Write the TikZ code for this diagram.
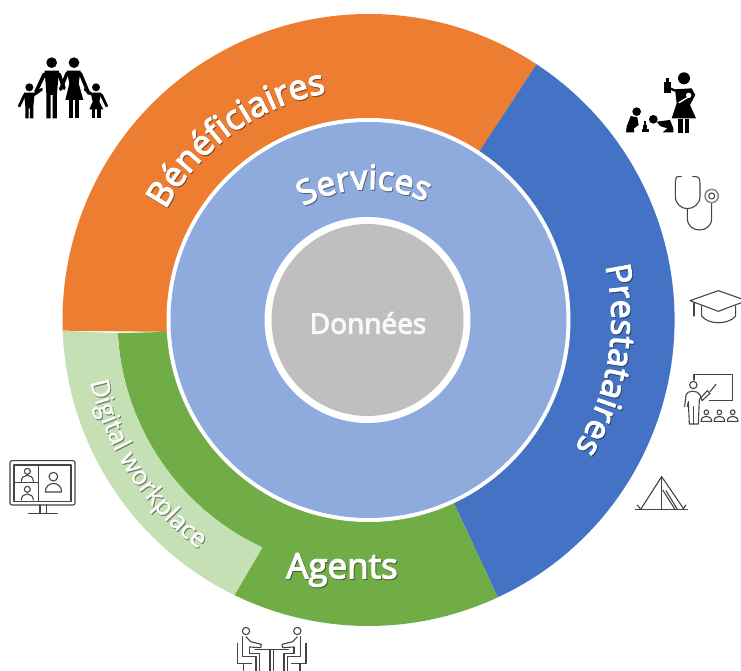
\documentclass[tikz,border=0pt]{standalone}
\usepackage{fontspec}
\usetikzlibrary{decorations.text,calc}
\setmainfont{Open Sans}
\newfontfamily\semib[FakeBold=3.5]{Open Sans}
\newfontfamily\midw[FakeBold=1.2]{Open Sans}
\definecolor{cOrange}{HTML}{ED7D31}
\definecolor{cBlue}{HTML}{4472C4}
\definecolor{cGreen}{HTML}{70AD47}
\definecolor{cLight}{HTML}{C5E0B4}
\definecolor{cServ}{HTML}{8FAADC}
\definecolor{cData}{HTML}{BFBFBF}
\definecolor{cIcon}{HTML}{444444}
\tikzset{
  iconline/.style={draw=cIcon,line width=1.1pt,line cap=round,line join=round},
  iconthick/.style={draw=black,line width=#1,line cap=round,line join=round},
  zoomed/.style 2 args={shift={(#1,671-#2)},xscale=1/3,yscale=-1/3},
}
% start angle, end angle, radius, font size, weight, text, colour, shadow colour
\newcommand{\arclabel}[8]{%
  \path[shift={(0.9,-1.1)},decorate,decoration={text along path,text align=center,
    text={|\color{#8}\fontsize{#4}{#4}\selectfont#5|#6}}]
    ($(368.5,351)+(#1:#3)$) arc (#1:#2:#3);
  \path[decorate,decoration={text along path,text align=center,
    text={|\color{#7}\fontsize{#4}{#4}\selectfont#5|#6}}]
    ($(368.5,351)+(#1:#3)$) arc (#1:#2:#3);
}
\begin{document}
\begin{tikzpicture}[x=1pt,y=1pt]
\useasboundingbox (0,0) rectangle (741,671);
\coordinate (c) at (368.5,351);
% outer ring sectors
\fill[cOrange] ($(c)+(56.7:306)$) arc (56.7:182:306) -- ($(c)+(183.4:200)$) arc (183.4:56.7:200) -- cycle;
\fill[cBlue] ($(c)+(-65:306)$) arc (-65:56.7:306) -- ($(c)+(56.7:200)$) arc (56.7:-65:200) -- cycle;
\fill[cGreen] ($(c)+(244:306)$) arc (244:295:306) -- ($(c)+(295:200)$) arc (295:183.4:200) -- ($(c)+(183:251)$) arc (183:245:251) -- cycle;
\fill[cLight] ($(c)+(182:306)$) arc (182:244:306) -- ($(c)+(245:251)$) arc (245:183:251) -- cycle;
% inner discs
\node[circle,fill=white,minimum size=404pt,inner sep=0pt] (servring) at (c) {};
\node[circle,fill=cServ,minimum size=396pt,inner sep=0pt] (services) at (c) {};
\node[circle,fill=white,minimum size=206pt,inner sep=0pt] (dataring) at (367.5,351) {};
\node[circle,fill=cData,minimum size=192pt,inner sep=0pt] (data) at (367.5,351) {};
% labels
\arclabel{152}{100}{231}{34.5}{\semib}{Bénéficiaires}{white}{cOrange!60!black}
\arclabel{122}{62}{131}{33.5}{\semib}{Services}{white}{cServ!60!black}
\arclabel{13}{-32}{243}{34}{\semib}{Prestataires}{white}{cBlue!60!black}
\arclabel{190}{236}{285}{25.5}{\midw}{Digital workplace}{white}{cLight!55!black}
\node[text=cGreen!55!black,font=\fontsize{35}{35}\selectfont\semib,inner sep=0pt] (agentsS) at (342.9,100) {Agents};
\node[text=white,font=\fontsize{35}{35}\selectfont\semib,inner sep=0pt] (agents) at (342,101) {Agents};
\node[text=white!90!cData,font=\fontsize{28}{28}\selectfont\semib,inner sep=0pt] (donnees) at (368,348) {Données};

% family
\begin{scope}[zoomed={0}{30}]
\fill (155,98) circle (16); \fill (222,98) circle (16);
\fill (88,172) circle (12); \fill (288,172) circle (12);
\fill (134,122) -- (177,122) -- (171,190) -- (171,265) -- (158,265) -- (158,195) -- (152,195) -- (152,265) -- (139,265) -- (139,190) -- cycle;
\draw[iconthick=3.6pt] (133,132) -- (108,185);
\draw[iconthick=3.6pt] (177,132) -- (192,175);
\fill (200,122) -- (242,122) -- (236,160) -- (250,210) -- (196,210) -- (208,160) -- cycle;
\fill (208,205) rectangle (219,265); \fill (225,205) rectangle (237,265);
\draw[iconthick=3.4pt] (201,130) -- (182,178);
\draw[iconthick=3.4pt] (241,130) -- (266,190);
\fill (72,188) -- (104,188) -- (100,230) -- (100,265) -- (90,265) -- (90,235) -- (86,235) -- (86,265) -- (76,265) -- (76,230) -- cycle;
\draw[iconthick=2.8pt] (74,194) -- (58,228);
\draw[iconthick=2.8pt] (102,194) -- (125,178);
\fill (272,188) -- (304,188) -- (298,215) -- (310,238) -- (268,238) -- (278,215) -- cycle;
\fill (276,235) rectangle (286,265); \fill (292,235) rectangle (302,265);
\draw[iconthick=2.8pt] (274,192) -- (255,178);
\draw[iconthick=2.8pt] (304,194) -- (320,228);
\end{scope}

% caregiver and children
\begin{scope}[zoomed={610}{60}]
\fill (222,55) circle (18);
\fill (163,66) rectangle (182,98); \fill (168,53) rectangle (176,66);
\fill (195,88) -- (245,85) -- (256,105) -- (240,135) -- (258,175) -- (185,175) -- (200,130) -- cycle;
\draw[iconthick=2.2pt] (182,86) -- (205,96);
\fill (204,178) rectangle (218,220); \fill (224,178) rectangle (238,220);
\draw[white,line width=1.4pt,line cap=round] (207,128) -- (240,108);
\fill[white] (236,106) circle (8);
\fill (80,155) circle (13);
\fill (62,168) -- (82,172) -- (86,195) -- (72,205) -- (72,217) -- (48,217) -- (50,200) -- cycle;
\fill (130,178) circle (13);
\fill (140,185) -- (180,180) -- (190,205) -- (190,217) -- (158,217) -- (172,205) -- (150,198) -- cycle;
\fill (95,207) rectangle (118,217); \fill (99,195) rectangle (112,206); \fill (103,184) rectangle (109,194);
\end{scope}

% stethoscope
\begin{scope}[zoomed={610}{60}]
\draw[iconline] (214,350) -- (203,350) .. controls (198,350) and (196,360) .. (196,372) -- (196,410) .. controls (196,432) and (215,446) .. (232,446) .. controls (250,446) and (270,432) .. (270,410) -- (270,372) .. controls (270,360) and (268,350) .. (258,350) -- (248,350);
\draw[iconline] (232,446) -- (232,475) .. controls (232,498) and (250,510) .. (268,510) .. controls (288,510) and (305,498) .. (305,475) -- (305,428);
\draw[iconline,line width=1.5pt,draw=cIcon!65] (305,408) circle (20);
\draw[iconline] (305,408) circle (9);
\end{scope}

% mortarboard
\begin{scope}[zoomed={620}{280}]
\draw[iconline] (210,62) -- (295,32) -- (380,62) -- (295,94) -- cycle;
\draw[iconline] (245,78) -- (245,108) .. controls (265,135) and (325,135) .. (347,108) -- (347,78);
\draw[iconline] (222,68) -- (222,108);
\end{scope}

% teacher
\begin{scope}[zoomed={620}{280}]
\draw[iconline] (222,300) -- (222,283) -- (338,283) -- (338,362) -- (268,362);
\draw[iconline] (220,315) circle (11);
\draw[iconline] (194,380) -- (198,345) .. controls (200,330) and (235,330) .. (240,345) -- (246,362) -- (270,340) -- (262,332) -- (238,358) -- (235,432) -- (208,432) -- (205,365) -- (202,380);
\draw[iconline] (221,380) -- (221,432);
\draw[iconline] (270,335) -- (288,313);
\foreach \px in {259,298,338}{
  \draw[iconline] (\px,397) circle (7);
  \draw[iconline] (\px-16,424) .. controls (\px-16,404) and (\px+16,404) .. (\px+16,424) -- cycle;
}
\end{scope}

% tent
\begin{scope}[zoomed={620}{280}]
\draw[iconline] (46,688) -- (203,688);
\draw[iconline] (125,590) -- (62,688);
\draw[iconline] (125,590) -- (192,688);
\draw[iconline] (125,590) -- (125,688);
\draw[iconline] (128,630) -- (165,688);
\draw[iconline] (138,632) -- (172,688);
\draw[iconline] (52,675) -- (62,688);
\draw[iconline] (198,675) -- (188,688);
\end{scope}

% video call screen
\begin{scope}[zoomed={0}{450}]
\draw[iconline,rounded corners=2pt] (30,32) rectangle (225,165);
\draw[iconline] (42,45) rectangle (213,155);
\draw[iconline] (115,45) -- (115,155);
\draw[iconline] (42,98) -- (115,98);
\draw[iconline] (120,165) -- (120,190);
\draw[iconline] (140,165) -- (140,190);
\draw[iconline] (85,190) -- (172,190);
\draw[iconline] (160,80) circle (13);
\draw[iconline] (136,126) .. controls (136,92) and (185,92) .. (185,126) -- cycle;
\draw[iconline] (82,64) circle (9);
\draw[iconline] (64,94) .. controls (64,70) and (100,70) .. (100,94);
\draw[iconline] (82,118) circle (9);
\draw[iconline] (64,150) .. controls (64,126) and (100,126) .. (100,150);
\end{scope}

% meeting at a table
\begin{scope}[zoomed={220}{615}]
\draw[iconline] (105,103) -- (205,103);
\draw[iconline] (150,103) -- (150,170);
\draw[iconline] (160,103) -- (160,170);
\foreach \sx/\ox in {1/0,-1/310}{
\begin{scope}[shift={(\ox,0)},xscale=\sx]
  \draw[iconline] (78,48) circle (11);
  \draw[iconline] (68,65) -- (68,125) -- (108,125) -- (108,170);
  \draw[iconline] (78,65) -- (92,80) -- (124,88) -- (122,98) -- (88,96);
  \draw[iconline] (88,96) -- (88,115) -- (118,115) -- (118,170);
  \draw[iconline] (52,85) -- (52,145) -- (95,145);
  \draw[iconline] (70,145) -- (70,170);
\end{scope}}
\end{scope}
\end{tikzpicture}
\end{document}
